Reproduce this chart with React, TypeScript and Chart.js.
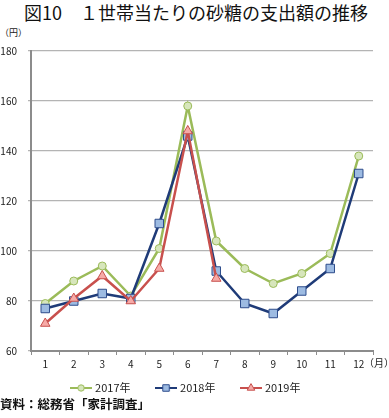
import React, { useEffect, useRef } from "react";
import { Chart, registerables } from "chart.js";
import { drawPoint } from "chart.js/helpers";

Chart.register(...registerables);

const months = ["1", "2", "3", "4", "5", "6", "7", "8", "9", "10", "11", "12"];
const seriesNames = ["2017年", "2018年", "2019年"];
const values2017 = [79, 88, 94, 82, 101, 158, 104, 93, 87, 91, 99, 138];
const values2018 = [77, 80, 83, 81, 111, 146, 92, 79, 75, 84, 93, 131];
const values2019 = [71, 81, 90, 80, 93, 148, 89, null, null, null, null, null];
const yMin = 60;
const yMax = 180;
const yStep = 20;

const titleText = "図10　１世帯当たりの砂糖の支出額の推移";
const yUnit = "（円）";
const xUnit = "（月）";
const sourceText = "資料：総務省「家計調査」";

const FONT = '"Noto Sans CJK JP", "Noto Sans", sans-serif';

const styles = [
  { line: "#9bbb59", fill: "#d7e6bc", border: "#9bbb59", point: "circle", r: 4, lr: 3.2 },
  { line: "#1f3b78", fill: "#9dbbe2", border: "#2e4d8c", point: "rect", r: 6, lr: 4.6 },
  { line: "#c8504d", fill: "#f6aaa7", border: "#c8504d", point: "triangle", r: 5.5, lr: 4.4 },
];

function makeSwatch(s: any): HTMLCanvasElement {
  const c = document.createElement("canvas");
  c.width = 22;
  c.height = 12;
  const ctx = c.getContext("2d")!;
  ctx.strokeStyle = s.line;
  ctx.lineWidth = 2;
  ctx.beginPath();
  ctx.moveTo(0, 6);
  ctx.lineTo(22, 6);
  ctx.stroke();
  ctx.fillStyle = s.fill;
  ctx.strokeStyle = s.border;
  ctx.lineWidth = 1;
  drawPoint(ctx, { pointStyle: s.point, radius: s.lr, borderWidth: 1, rotation: 0 } as any, 11, 6);
  return c;
}

// moves the legend row up to sit just under the axis labels
const legendShift = {
  id: "legendShift",
  afterLayout(chart: any) {
    const lg = chart.legend;
    if (!lg) return;
    const h = lg.height;
    lg.top = chart.chartArea.bottom + 4.5;
    lg.bottom = lg.top + h;
  },
};

export default function App() {
  const ref = useRef<HTMLCanvasElement | null>(null);

  useEffect(() => {
    if (!ref.current) return;
    Chart.defaults.font.family = FONT;
    const seriesValues = [values2017, values2018, values2019];
    const swatches = styles.map(makeSwatch);
    const datasets = seriesValues.map((vals, i) => ({
      label: seriesNames[i],
      data: vals,
      borderColor: styles[i].line,
      backgroundColor: styles[i].fill,
      borderWidth: 2.5,
      pointStyle: styles[i].point as any,
      pointRadius: styles[i].r,
      pointBackgroundColor: styles[i].fill,
      pointBorderColor: styles[i].border,
      pointBorderWidth: 1,
      tension: 0,
      spanGaps: false,
      order: 3 - i,
    }));

    const chart = new Chart(ref.current, {
      type: "line",
      data: { labels: months, datasets },
      plugins: [legendShift],
      options: {
        animation: false,
        responsive: false,
        maintainAspectRatio: false,
        layout: { padding: { top: 51, right: 16, bottom: 7, left: 0 } },
        plugins: {
          tooltip: { enabled: false },
          title: { display: false },
          legend: {
            display: true,
            position: "bottom",
            align: "center",
            maxHeight: 40,
            labels: {
              usePointStyle: true,
              pointStyleWidth: 17,
              padding: 27,
              color: "#222",
              font: { size: 11, family: FONT },
              generateLabels: (ch: any) =>
                ch.data.datasets.map((ds: any, i: number) => ({
                  text: ds.label,
                  pointStyle: swatches[i],
                  datasetIndex: i,
                  fillStyle: styles[i].fill,
                  strokeStyle: styles[i].line,
                  lineWidth: 0,
                  hidden: false,
                  fontColor: "#222",
                })),
            },
          },
        },
        scales: {
          x: {
            type: "category",
            offset: true,
            afterFit: (scale: any) => {
              scale.height = 20;
            },
            grid: {
              display: true,
              offset: true,
              drawOnChartArea: false,
              drawTicks: true,
              tickLength: 4,
              color: "#8c8c8c",
              lineWidth: 1,
            },
            border: { display: true, color: "#8c8c8c", width: 2 },
            ticks: {
              padding: 3,
              color: "#222",
              font: { size: 10, family: FONT },
              maxRotation: 0,
              autoSkip: false,
            },
          },
          y: {
            min: yMin,
            max: yMax,
            afterFit: (scale: any) => {
              scale.width = 31;
            },
            grid: {
              color: "#b4b4b4",
              lineWidth: 1.3,
              drawTicks: true,
              tickLength: 3,
            },
            border: { display: true, color: "#8c8c8c", width: 2 },
            ticks: {
              stepSize: yStep,
              padding: 11,
              color: "#222",
              font: { size: 10, family: FONT },
            },
          },
        },
      },
    });
    return () => chart.destroy();
  }, []);

  return (
    <div style={{ position: "absolute", left: 0, top: 0, width: 389, height: 418, background: "#fff", fontFamily: FONT }}>
      <div
        style={{
          position: "absolute",
          left: 0,
          top: 0,
          width: 392,
          textAlign: "center",
          fontSize: 18,
          lineHeight: "24px",
          color: "#111",
          whiteSpace: "nowrap",
        }}
      >
        {titleText}
      </div>
      <div style={{ position: "absolute", left: 0, top: 27, fontSize: 9, lineHeight: "12px", color: "#222", whiteSpace: "nowrap" }}>
        {yUnit}
      </div>
      <canvas ref={ref} width={389} height={418} style={{ position: "absolute", left: 0, top: 0, width: 389, height: 418 }} />
      <div style={{ position: "absolute", left: 364, top: 357, fontSize: 10, lineHeight: "12px", color: "#222", whiteSpace: "nowrap" }}>
        {xUnit}
      </div>
      <div
        style={{
          position: "absolute",
          left: 0,
          top: 396,
          fontSize: 12.5,
          lineHeight: "16px",
          fontWeight: 700,
          color: "#111",
          whiteSpace: "nowrap",
        }}
      >
        {sourceText}
      </div>
    </div>
  );
}
